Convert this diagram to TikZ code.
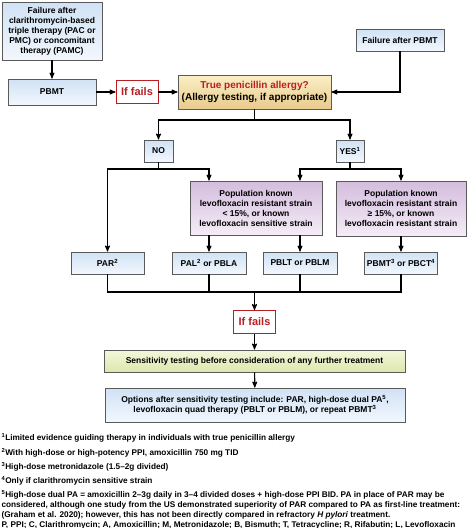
\documentclass[tikz,border=0pt]{standalone}
\usepackage{fontspec}
\setmainfont{Liberation Sans}
\usetikzlibrary{arrows,positioning}

\definecolor{linegray}{RGB}{90,90,90}
\definecolor{failred}{RGB}{185,30,35}
\definecolor{blueA}{RGB}{208,226,245}
\definecolor{blueB}{RGB}{242,247,253}
\definecolor{orangeA}{RGB}{251,239,198}
\definecolor{orangeB}{RGB}{233,203,140}
\definecolor{purpleA}{RGB}{212,188,222}
\definecolor{purpleB}{RGB}{244,237,246}
\definecolor{greenA}{RGB}{244,247,220}
\definecolor{greenB}{RGB}{221,231,172}

\tikzset{
  box/.style={draw=linegray, line width=0.9pt, align=center, inner sep=1pt,
    font=\fontsize{8.5}{10}\selectfont\bfseries},
  bluebox/.style={box, top color=blueA, bottom color=blueB},
  orangebox/.style={box, top color=orangeA, bottom color=orangeB},
  purplebox/.style={box, top color=purpleA, bottom color=purpleB},
  greenbox/.style={box, top color=greenA, bottom color=greenB},
  failbox/.style={draw=failred, line width=0.9pt, fill=white, text=failred,
    font=\fontsize{11}{13}\selectfont\bfseries, minimum width=42pt, minimum height=23pt},
  note/.style={anchor=base west, inner sep=0pt, font=\fontsize{8.25}{10}\selectfont\bfseries}
}

\begin{document}
\begin{tikzpicture}[x=1pt,y=-1pt,->,>=stealth',line width=1.1pt]
  \useasboundingbox (0,0) rectangle (474,528);

  % top row
  \node[bluebox, minimum width=100pt, minimum height=58pt] (fail1) at (52,31)
    {Failure after\\clarithromycin-based\\triple therapy (PAC or\\PMC) or concomitant\\therapy (PAMC)};
  \node[bluebox, minimum width=88pt, minimum height=26pt] (pbmt) at (52,92) {PBMT};
  \node[failbox] (fails1) at (137,92) {If fails};
  \node[orangebox, minimum width=153pt, minimum height=34pt,
    font=\fontsize{10}{12}\selectfont\bfseries] (allergy) at (254.5,92)
    {\textcolor{failred}{True penicillin allergy?}\\(Allergy testing, if appropriate)};
  \node[bluebox, minimum width=88pt, minimum height=22pt] (pbmtfail) at (400,40) {Failure after PBMT};

  % allergy branches
  \node[bluebox, minimum width=29pt, minimum height=22pt] (no) at (158.5,151) {NO};
  \node[bluebox, minimum width=28pt, minimum height=22pt] (yes) at (350,151) {YES\textsuperscript{1}};
  \node[purplebox, minimum width=132pt, minimum height=54pt] (lowres) at (256,208)
    {Population known\\levofloxacin resistant strain\\< 15\%, or known\\levofloxacin sensitive strain};
  \node[purplebox, minimum width=130pt, minimum height=55pt] (highres) at (401,208.5)
    {Population known\\levofloxacin resistant strain\\≥ 15\%, or known\\levofloxacin resistant strain};

  % regimens
  \node[bluebox, minimum width=73pt, minimum height=22pt] (par) at (107.5,263) {PAR\textsuperscript{2}};
  \node[bluebox, minimum width=74pt, minimum height=22pt] (pal) at (209,263) {PAL\textsuperscript{2} or PBLA};
  \node[bluebox, minimum width=74pt, minimum height=22pt] (pblt) at (300,263) {PBLT or PBLM};
  \node[bluebox, minimum width=73pt, minimum height=22pt] (pbmtct) at (401,263)
    {PBMT\textsuperscript{3} or PBCT\textsuperscript{4}};

  % after failure
  \node[failbox] (fails2) at (254.5,322) {If fails};
  \node[greenbox, minimum width=301pt, minimum height=22pt] (sens) at (254.5,361)
    {Sensitivity testing before consideration of any further treatment};
  \node[bluebox, minimum width=300pt, minimum height=34pt] (opts) at (255,405)
    {Options after sensitivity testing include: PAR, high-dose dual PA\textsuperscript{5},\\
     levofloxacin quad therapy (PBLT or PBLM), or repeat PBMT\textsuperscript{3}};

  \coordinate (topbus) at (254.5,120);
  \coordinate (nobus) at (158.5,169);
  \coordinate (yesbus) at (350,169);
  \coordinate (lowbus) at (254.5,292);

  \path
(fail1) edge (pbmt)
(pbmt) edge (fails1)
(fails1) edge (allergy)
;
  \draw (pbmtfail) |- (allergy);
  \draw[-] (allergy) -- (topbus);
  \draw (topbus) -| (no);
  \draw (topbus) -| (yes);
  \draw[-] (no) -- (nobus);
  \draw (nobus) -| (par);
  \draw (nobus) -| (pal |- lowres.north);
  \draw[-] (yes) -- (yesbus);
  \draw (yesbus) -| (pblt |- lowres.north);
  \draw (yesbus) -| (highres);
  \draw (pal |- lowres.south) -- (pal);
  \draw (pblt |- lowres.south) -- (pblt);
  \draw (highres) -- (pbmtct);
  \draw[-] (par) |- (lowbus);
  \draw[-] (pbmtct) |- (lowbus);
  \draw[-] (pal) -- (pal |- lowbus);
  \draw[-] (pblt) -- (pblt |- lowbus);
  \draw (lowbus) -- (fails2);
  \path
(fails2) edge (sens)
(sens) edge (opts)
;

  % footnotes
  \node[note] (fn1) at (1,440) {\textsuperscript{1}Limited evidence guiding therapy in individuals with true penicillin allergy};
  \node[note] (fn2) at (1,455) {\textsuperscript{2}With high-dose or high-potency PPI, amoxicillin 750 mg TID};
  \node[note] (fn3) at (1,469) {\textsuperscript{3}High-dose metronidazole (1.5–2g divided)};
  \node[note] (fn4) at (1,483) {\textsuperscript{4}Only if clarithromycin sensitive strain};
  \node[note] (fn5) at (1,497) {\textsuperscript{5}High-dose dual PA = amoxicillin 2–3g daily in 3–4 divided doses + high-dose PPI BID. PA in place of PAR may be};
  \node[note] (fn5b) at (1,507) {considered, although one study from the US demonstrated superiority of PAR compared to PA as first-line treatment:};
  \node[note] (fn5c) at (1,517) {(Graham et al. 2020); however, this has not been directly compared in refractory \textit{H pylori} treatment.};
  \node[note] (abbr) at (1,527) {P, PPI; C, Clarithromycin; A, Amoxicillin; M, Metronidazole; B, Bismuth; T, Tetracycline; R, Rifabutin; L, Levofloxacin};
\end{tikzpicture}
\end{document}
